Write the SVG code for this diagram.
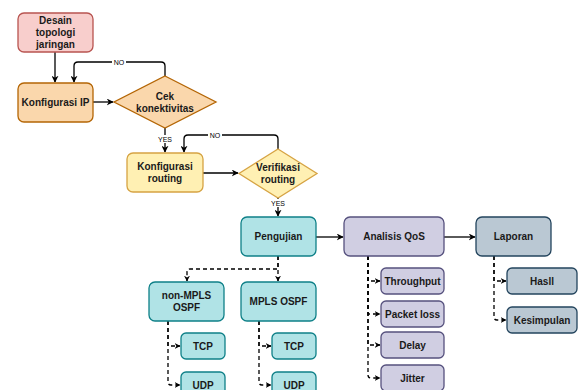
<svg xmlns="http://www.w3.org/2000/svg" width="578" height="390" viewBox="0 0 578 390">
<defs>
<marker id="arr" viewBox="0 0 10 10" refX="9" refY="5" markerWidth="7" markerHeight="7" orient="auto" markerUnits="userSpaceOnUse">
<path d="M0,0 L10,5 L0,10 L3,5 Z" fill="#000"/>
</marker>
<marker id="arrs" viewBox="0 0 10 10" refX="9" refY="5" markerWidth="6" markerHeight="6" orient="auto" markerUnits="userSpaceOnUse">
<path d="M0,0 L10,5 L0,10 L3,5 Z" fill="#000"/>
</marker>
</defs>
<style>
text{font-family:"Liberation Sans",Arial,sans-serif;font-weight:bold;font-size:10px;fill:#1a1a1a;text-anchor:middle;dominant-baseline:central}
.lbl{font-size:7px;font-weight:normal;fill:#000}
.pink{fill:#f8cecc;stroke:#b85450}
.orange{fill:#fad7ac;stroke:#b46504}
.yellow{fill:#fff0b3;stroke:#d6a343}
.teal{fill:#b0e3e6;stroke:#0e8088}
.purple{fill:#d0cee2;stroke:#56517e}
.slate{fill:#bac8d3;stroke:#23445d}
rect,polygon{stroke-width:1.3}
.c{fill:none;stroke:#000;stroke-width:1.3;marker-end:url(#arr)}
.d{fill:none;stroke:#000;stroke-width:1.3;stroke-dasharray:4 3;marker-end:url(#arrs)}
.lb{fill:#fff}
</style>
<g id="connectors">
<path class="c" d="M55,52 V82"/>
<path class="c" d="M165,76 V66 Q165,62 161,62 H78 Q74,62 74,66 V82"/>
<path class="c" d="M93,102 H113"/>
<path class="c" d="M165,128 V152"/>
<path class="c" d="M278,149 V139 Q278,135 274,135 H188 Q184,135 184,139 V152"/>
<path class="c" d="M203,173 H238"/>
<path class="c" d="M278,198 V216"/>
<path class="c" d="M316,237 H343"/>
<path class="c" d="M444,237 H475"/>
<path class="d" d="M278,256 V281"/>
<path class="d" d="M278,256 V269 H190 Q187,269 187,272 V281"/>
<path class="d" d="M168,321 V346 H180"/>
<path class="d" d="M168,321 V382 Q168,385 171,385 H180"/>
<path class="d" d="M259,321 V346 H271"/>
<path class="d" d="M259,321 V382 Q259,385 262,385 H271"/>
<path class="d" d="M368,256 V281 H380"/>
<path class="d" d="M368,256 V314 H380"/>
<path class="d" d="M368,256 V345 H380"/>
<path class="d" d="M368,256 V375 Q368,378 371,378 H380"/>
<path class="d" d="M494,256 V281 H506"/>
<path class="d" d="M494,256 V317 Q494,320 497,320 H506"/>
<rect class="lb" x="112" y="58" width="14" height="8"/>
<text class="lbl" x="119" y="62">NO</text>
<rect class="lb" x="208" y="131" width="14" height="8"/>
<text class="lbl" x="215" y="135">NO</text>
<rect class="lb" x="157" y="135" width="16" height="8"/>
<text class="lbl" x="165" y="139">YES</text>
<rect class="lb" x="270" y="199" width="16" height="8"/>
<text class="lbl" x="278" y="203">YES</text>
</g>
<g id="desain"><rect class="pink" x="18" y="13" width="75" height="39" rx="6"/><text x="55.5" y="20.5">Desain</text><text x="55.5" y="32.5">topologi</text><text x="55.5" y="44.5">jaringan</text></g>
<g id="konfig-ip"><rect class="orange" x="18" y="83" width="75" height="39" rx="6"/><text x="55.5" y="102.5">Konfigurasi IP</text></g>
<g id="cek"><polygon class="orange" points="165,76 216,102 165,128 114,102"/><text x="165" y="96">Cek</text><text x="165" y="108">konektivitas</text></g>
<g id="konfig-routing"><rect class="yellow" x="127" y="153" width="76" height="39" rx="6"/><text x="165" y="166.5">Konfigurasi</text><text x="165" y="178.5">routing</text></g>
<g id="verifikasi"><polygon class="yellow" points="278,149 317,173.5 278,198 239,173.5"/><text x="278" y="167">Verifikasi</text><text x="278" y="179.5">routing</text></g>
<g id="pengujian"><rect class="teal" x="241" y="217" width="75" height="39" rx="6"/><text x="278.5" y="236.5">Pengujian</text></g>
<g id="analisis"><rect class="purple" x="344" y="217" width="100" height="39" rx="6"/><text x="394" y="236.5">Analisis QoS</text></g>
<g id="laporan"><rect class="slate" x="476" y="217" width="75" height="39" rx="6"/><text x="513.5" y="236.5">Laporan</text></g>
<g id="non-mpls"><rect class="teal" x="149" y="282" width="75" height="39" rx="6"/><text x="186.5" y="295.5">non-MPLS</text><text x="186.5" y="307.5">OSPF</text></g>
<g id="mpls"><rect class="teal" x="241" y="282" width="75" height="39" rx="6"/><text x="278.5" y="301.5">MPLS OSPF</text></g>
<g id="tcp1"><rect class="teal" x="181" y="333" width="44" height="26" rx="5"/><text x="203" y="346">TCP</text></g>
<g id="udp1"><rect class="teal" x="181" y="372" width="44" height="26" rx="5"/><text x="203" y="385">UDP</text></g>
<g id="tcp2"><rect class="teal" x="272" y="333" width="44" height="26" rx="5"/><text x="294" y="346">TCP</text></g>
<g id="udp2"><rect class="teal" x="272" y="372" width="44" height="26" rx="5"/><text x="294" y="385">UDP</text></g>
<g id="throughput"><rect class="purple" x="381" y="268" width="63" height="26" rx="5"/><text x="412.5" y="281">Throughput</text></g>
<g id="packetloss"><rect class="purple" x="381" y="301" width="63" height="26" rx="5"/><text x="412.5" y="314">Packet loss</text></g>
<g id="delay"><rect class="purple" x="381" y="332" width="63" height="26" rx="5"/><text x="412.5" y="345">Delay</text></g>
<g id="jitter"><rect class="purple" x="381" y="365" width="63" height="26" rx="5"/><text x="412.5" y="378">Jitter</text></g>
<g id="hasil"><rect class="slate" x="507" y="268" width="70" height="26" rx="5"/><text x="542" y="281">Hasll</text></g>
<g id="kesimpulan"><rect class="slate" x="507" y="307" width="70" height="26" rx="5"/><text x="542" y="320">Kesimpulan</text></g>
</svg>
